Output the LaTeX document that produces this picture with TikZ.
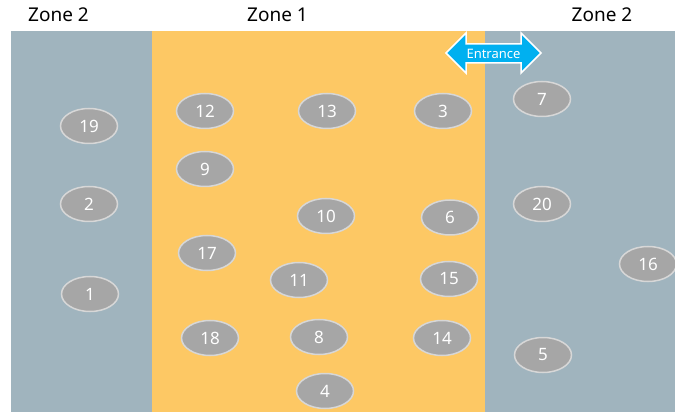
\documentclass[tikz,border=0pt]{standalone}
\usepackage{fontspec}
\setmainfont{Noto Sans}
\usetikzlibrary{shapes.geometric}
\definecolor{zonegray}{RGB}{160,180,190}
\definecolor{zoneyellow}{RGB}{253,200,100}
\definecolor{ellfill}{RGB}{166,166,166}
\definecolor{ellline}{RGB}{215,215,215}
\definecolor{entr}{RGB}{0,176,240}
\begin{document}
\begin{tikzpicture}[x=1pt,y=-1pt,
  spot/.style={ellipse,fill=ellfill,draw=ellline,line width=1.5pt,minimum width=57pt,minimum height=35pt,inner sep=0pt,text=white,font=\fontsize{17}{17}\selectfont},
  zonelbl/.style={font=\fontsize{19}{19}\selectfont,text=black}]
\useasboundingbox (0,0) rectangle (675,414);
\fill[white] (0,0) rectangle (675,414);
\fill[zonegray] (11,31) rectangle (675,412);
\fill[zoneyellow] (152,31) rectangle (485,412);
\node[zonelbl] (zl) at (58.5,15) {Zone 2};
\node[zonelbl] (zc) at (277.5,15) {Zone 1};
\node[zonelbl] (zr) at (602,15) {Zone 2};
\begin{scope}[every node/.style={spot}]
\node (n19) at (89,126) {19};
\node (n2) at (89,204) {2};
\node (n1) at (90,294) {1};
\node (n12) at (205,111) {12};
\node (n13) at (327,111) {13};
\node (n3) at (443,111) {3};
\node (n9) at (205,169) {9};
\node (n10) at (326,216) {10};
\node (n6) at (450,217.5) {6};
\node (n17) at (207,253) {17};
\node (n11) at (299,280) {11};
\node (n15) at (449,279) {15};
\node (n18) at (210,338) {18};
\node (n8) at (319,337) {8};
\node (n14) at (442,338) {14};
\node (n4) at (325,391) {4};
\node (n7) at (542,99) {7};
\node (n20) at (542,204) {20};
\node (n16) at (648,264) {16};
\node (n5) at (543,355) {5};
\end{scope}
\filldraw[fill=entr,draw=white,line width=1.5pt,line join=miter]
  (446,53) -- (466,33) -- (466,44) -- (521,44) -- (521,33) -- (541,53)
  -- (521,73) -- (521,63) -- (466,63) -- (466,73) -- cycle;
\node[text=white,font=\fontsize{13}{13}\selectfont] (ent) at (493.5,53.5) {Entrance};
\end{tikzpicture}
\end{document}
